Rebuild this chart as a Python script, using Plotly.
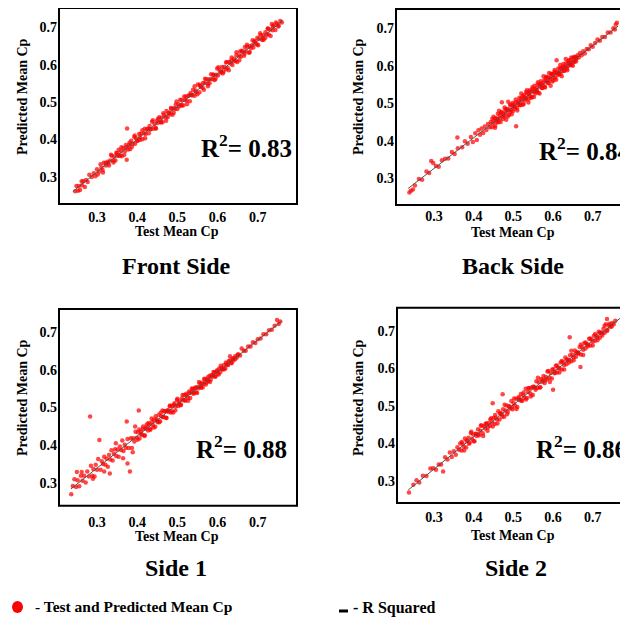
import plotly.graph_objects as go

FONT = "Liberation Serif"

# ---------------- data ----------------
tick_vals = [0.3, 0.4, 0.5, 0.6, 0.7]
tick_text = ["0.3", "0.4", "0.5", "0.6", "0.7"]

titles = ["Front Side", "Back Side", "Side 1", "Side 2"]
r2_values = ["0.83", "0.84", "0.88", "0.86"]

front_x = [0.246, 0.249, 0.253, 0.255, 0.258, 0.262, 0.263, 0.266, 0.270, 0.273,
           0.277, 0.281, 0.287, 0.292, 0.296, 0.300, 0.305, 0.311, 0.314, 0.317,
           0.322, 0.327, 0.330, 0.333, 0.337, 0.341, 0.343, 0.346, 0.350, 0.351,
           0.354, 0.358, 0.360, 0.362, 0.366, 0.370, 0.372, 0.375, 0.378, 0.380,
           0.383, 0.385, 0.389, 0.393, 0.395, 0.397, 0.401, 0.405, 0.407, 0.409,
           0.413, 0.417, 0.419, 0.421, 0.425, 0.429, 0.431, 0.433, 0.437, 0.441,
           0.443, 0.447, 0.449, 0.451, 0.455, 0.459, 0.461, 0.463, 0.467, 0.471,
           0.473, 0.476, 0.480, 0.482, 0.484, 0.488, 0.492, 0.494, 0.496, 0.500,
           0.503, 0.507, 0.509, 0.511, 0.515, 0.519, 0.521, 0.523, 0.527, 0.531,
           0.533, 0.535, 0.539, 0.543, 0.545, 0.547, 0.551, 0.555, 0.557, 0.559,
           0.564, 0.566, 0.568, 0.572, 0.576, 0.578, 0.580, 0.584, 0.588, 0.590,
           0.593, 0.597, 0.599, 0.601, 0.605, 0.609, 0.611, 0.613, 0.617, 0.621,
           0.623, 0.625, 0.629, 0.633, 0.635, 0.637, 0.641, 0.645, 0.647, 0.649,
           0.654, 0.656, 0.658, 0.662, 0.666, 0.668, 0.670, 0.674, 0.678, 0.680,
           0.683, 0.687, 0.689, 0.691, 0.695, 0.699, 0.701, 0.703, 0.707, 0.711,
           0.713, 0.715, 0.719, 0.723, 0.725, 0.727, 0.731, 0.735, 0.737, 0.739,
           0.744, 0.748, 0.752, 0.756, 0.760, 0.374]
front_y = [0.261, 0.275, 0.262, 0.275, 0.264, 0.288, 0.277, 0.288, 0.272, 0.291,
           0.286, 0.305, 0.299, 0.309, 0.301, 0.320, 0.313, 0.324, 0.318, 0.337,
           0.330, 0.340, 0.330, 0.343, 0.356, 0.343, 0.354, 0.343, 0.363, 0.356,
           0.372, 0.357, 0.368, 0.355, 0.377, 0.369, 0.385, 0.429, 0.373, 0.385,
           0.374, 0.396, 0.388, 0.406, 0.388, 0.403, 0.396, 0.414, 0.405, 0.415,
           0.400, 0.416, 0.428, 0.414, 0.427, 0.416, 0.436, 0.427, 0.447, 0.428,
           0.441, 0.429, 0.450, 0.444, 0.459, 0.445, 0.458, 0.446, 0.465, 0.459,
           0.476, 0.459, 0.472, 0.467, 0.484, 0.466, 0.484, 0.481, 0.493, 0.481,
           0.494, 0.506, 0.492, 0.505, 0.491, 0.505, 0.515, 0.503, 0.516, 0.502,
           0.524, 0.518, 0.533, 0.517, 0.531, 0.526, 0.547, 0.526, 0.543, 0.540,
           0.551, 0.533, 0.551, 0.561, 0.548, 0.560, 0.550, 0.574, 0.561, 0.573,
           0.559, 0.573, 0.590, 0.571, 0.585, 0.581, 0.594, 0.576, 0.594, 0.588,
           0.607, 0.591, 0.607, 0.603, 0.619, 0.599, 0.616, 0.610, 0.625, 0.607,
           0.624, 0.635, 0.621, 0.635, 0.624, 0.647, 0.636, 0.648, 0.632, 0.649,
           0.644, 0.665, 0.646, 0.661, 0.656, 0.672, 0.652, 0.669, 0.679, 0.666,
           0.679, 0.667, 0.687, 0.681, 0.696, 0.681, 0.694, 0.709, 0.692, 0.705,
           0.693, 0.709, 0.704, 0.717, 0.713, 0.345]
front_more_x = [0.302, 0.309, 0.315, 0.322, 0.328, 0.335, 0.341, 0.348, 0.355, 0.361,
                0.368, 0.374, 0.381, 0.387, 0.394, 0.400, 0.407, 0.413, 0.420, 0.426,
                0.433, 0.439, 0.446, 0.452, 0.459, 0.465, 0.472, 0.478, 0.485, 0.491,
                0.498, 0.504, 0.511, 0.517, 0.524, 0.530, 0.537, 0.543, 0.550, 0.556,
                0.563, 0.569, 0.576, 0.582, 0.589, 0.595, 0.602, 0.608, 0.615, 0.621,
                0.628, 0.634, 0.641, 0.647, 0.654, 0.660, 0.667, 0.673, 0.680, 0.686,
                0.693, 0.699, 0.706, 0.712, 0.719, 0.725, 0.732, 0.738, 0.745, 0.751]
front_more_y = [0.306, 0.333, 0.311, 0.337, 0.335, 0.359, 0.338, 0.364, 0.356, 0.379,
                0.359, 0.379, 0.391, 0.380, 0.410, 0.396, 0.398, 0.424, 0.403, 0.428,
                0.427, 0.451, 0.430, 0.455, 0.447, 0.470, 0.450, 0.470, 0.482, 0.471,
                0.501, 0.488, 0.490, 0.515, 0.494, 0.519, 0.518, 0.542, 0.521, 0.546,
                0.538, 0.562, 0.542, 0.561, 0.573, 0.562, 0.593, 0.579, 0.581, 0.606,
                0.585, 0.611, 0.610, 0.633, 0.612, 0.637, 0.630, 0.653, 0.633, 0.652,
                0.664, 0.654, 0.684, 0.670, 0.672, 0.697, 0.677, 0.702, 0.713, 0.702]

back_x = [0.238, 0.242, 0.247, 0.252, 0.262, 0.270, 0.281, 0.288, 0.293, 0.298,
          0.305, 0.312, 0.320, 0.328, 0.336, 0.345, 0.352, 0.360, 0.371, 0.378,
          0.385, 0.393, 0.398, 0.404, 0.408, 0.412, 0.416, 0.420, 0.424, 0.428,
          0.432, 0.436, 0.440, 0.359,
          0.443, 0.446, 0.447, 0.448, 0.451, 0.454, 0.455, 0.457, 0.460, 0.461,
          0.463, 0.466, 0.467, 0.469, 0.471, 0.474, 0.475, 0.477, 0.480, 0.481,
          0.483, 0.486, 0.487, 0.489, 0.492, 0.493, 0.495, 0.498, 0.499, 0.501,
          0.504, 0.505, 0.507, 0.509, 0.512, 0.513, 0.515, 0.518, 0.519, 0.521,
          0.523, 0.526, 0.527, 0.529, 0.532, 0.533, 0.535, 0.538, 0.539, 0.541,
          0.543, 0.546, 0.547, 0.549, 0.552, 0.553, 0.555, 0.558, 0.559, 0.561,
          0.563, 0.566, 0.567, 0.569, 0.572, 0.573, 0.575, 0.578, 0.579, 0.581,
          0.583, 0.586, 0.587, 0.589, 0.592, 0.593, 0.595, 0.598, 0.599, 0.601,
          0.604, 0.605, 0.607, 0.609, 0.612, 0.613, 0.615, 0.618, 0.619, 0.621,
          0.623, 0.626, 0.627, 0.629, 0.632, 0.633, 0.635, 0.638, 0.639, 0.641,
          0.643, 0.646, 0.647, 0.649, 0.652, 0.653, 0.655, 0.658, 0.659,
          0.662, 0.665, 0.668, 0.672, 0.676, 0.680, 0.685, 0.690, 0.695, 0.700,
          0.706, 0.712, 0.718, 0.724, 0.731, 0.738, 0.745, 0.752, 0.758, 0.761,
          0.756]
back_y = [0.262, 0.267, 0.270, 0.281, 0.298, 0.296, 0.318, 0.314, 0.346, 0.341,
          0.333, 0.331, 0.348, 0.352, 0.353, 0.370, 0.365, 0.380, 0.383, 0.399,
          0.392, 0.410, 0.397, 0.420, 0.402, 0.428, 0.416, 0.433, 0.421, 0.438,
          0.429, 0.445, 0.436, 0.409,
          0.450, 0.436, 0.459, 0.446, 0.454, 0.440, 0.461, 0.450, 0.458, 0.472,
          0.452, 0.468, 0.461, 0.475, 0.503, 0.458, 0.473, 0.465, 0.484, 0.474,
          0.483, 0.465, 0.504, 0.483, 0.476, 0.494, 0.482, 0.501, 0.479, 0.496,
          0.491, 0.502, 0.439, 0.487, 0.502, 0.496, 0.515, 0.496, 0.512, 0.507,
          0.519, 0.498, 0.516, 0.508, 0.530, 0.514, 0.526, 0.511, 0.524, 0.535,
          0.519, 0.532, 0.517, 0.538, 0.530, 0.547, 0.526, 0.540, 0.534, 0.550,
          0.528, 0.550, 0.544, 0.559, 0.541, 0.554, 0.548, 0.562, 0.544, 0.559,
          0.571, 0.554, 0.569, 0.554, 0.569, 0.565, 0.579, 0.558, 0.578, 0.569,
          0.584, 0.568, 0.580, 0.615, 0.575, 0.593, 0.582, 0.593, 0.578, 0.594,
          0.586, 0.605, 0.587, 0.599, 0.596, 0.607, 0.592, 0.608, 0.600, 0.615,
          0.602, 0.611, 0.603, 0.620, 0.611, 0.622, 0.611, 0.623, 0.619,
          0.628, 0.622, 0.634, 0.628, 0.639, 0.633, 0.645, 0.644, 0.655, 0.651,
          0.661, 0.670, 0.667, 0.677, 0.677, 0.689, 0.689, 0.700, 0.710, 0.715,
          0.697]
back_more_x = [0.450, 0.454, 0.457, 0.461, 0.464, 0.468, 0.471, 0.475, 0.478, 0.482,
               0.485, 0.489, 0.492, 0.496, 0.499, 0.503, 0.506, 0.510, 0.513, 0.517,
               0.520, 0.524, 0.527, 0.531, 0.534, 0.538, 0.541, 0.545, 0.548, 0.552,
               0.555, 0.559, 0.562, 0.566, 0.569, 0.573, 0.576, 0.580, 0.583, 0.587,
               0.590, 0.594, 0.597, 0.601, 0.604, 0.608, 0.611, 0.615, 0.618, 0.622,
               0.625, 0.629, 0.632, 0.636, 0.639, 0.643, 0.646, 0.650, 0.654, 0.658]
back_more_y = [0.464, 0.435, 0.459, 0.449, 0.480, 0.450, 0.477, 0.466, 0.489, 0.456,
               0.485, 0.469, 0.497, 0.471, 0.492, 0.486, 0.510, 0.481, 0.505, 0.495,
               0.526, 0.496, 0.522, 0.512, 0.535, 0.502, 0.531, 0.515, 0.543, 0.517,
               0.537, 0.532, 0.556, 0.526, 0.551, 0.541, 0.572, 0.542, 0.568, 0.558,
               0.581, 0.547, 0.577, 0.561, 0.589, 0.563, 0.583, 0.578, 0.602, 0.572,
               0.597, 0.587, 0.618, 0.588, 0.614, 0.604, 0.622, 0.600, 0.624, 0.612]

side1_x = [0.236, 0.240, 0.244, 0.248, 0.252, 0.256, 0.260, 0.264, 0.268, 0.272,
           0.276, 0.280, 0.283, 0.285, 0.288, 0.291, 0.294, 0.297, 0.300, 0.303,
           0.306, 0.309, 0.312, 0.315, 0.318, 0.321, 0.324, 0.327, 0.330, 0.333,
           0.336, 0.339, 0.342, 0.345, 0.348, 0.351, 0.354, 0.357, 0.360, 0.363,
           0.366, 0.369, 0.372, 0.374, 0.376, 0.379, 0.382, 0.384, 0.387, 0.390,
           0.393, 0.396, 0.399, 0.402, 0.404, 0.406, 0.409, 0.412, 0.415, 0.418,
           0.421, 0.424, 0.427, 0.430, 0.433, 0.436, 0.439, 0.442, 0.445, 0.448,
           0.451, 0.454, 0.457, 0.460, 0.463, 0.466, 0.469, 0.472, 0.475, 0.478,
           0.481, 0.484, 0.487, 0.490, 0.493, 0.496, 0.499, 0.502, 0.505, 0.508,
           0.511, 0.514, 0.517, 0.520, 0.523, 0.526, 0.529, 0.532, 0.535, 0.538,
           0.541, 0.544, 0.547, 0.550, 0.553, 0.556, 0.559, 0.562, 0.565, 0.568,
           0.571, 0.574, 0.577, 0.580, 0.583, 0.586, 0.589, 0.592, 0.595, 0.598,
           0.601, 0.604, 0.607, 0.610, 0.613, 0.616, 0.619, 0.622, 0.625, 0.628,
           0.631, 0.634, 0.637, 0.640, 0.644, 0.648, 0.652, 0.656, 0.660, 0.665,
           0.670, 0.676, 0.682, 0.688, 0.694, 0.700, 0.707, 0.714, 0.721, 0.728,
           0.735, 0.742, 0.748, 0.752, 0.756, 0.250, 0.332, 0.376]
side1_y = [0.271, 0.293, 0.311, 0.290, 0.308, 0.292, 0.320, 0.307, 0.320, 0.302,
           0.331, 0.318, 0.476, 0.346, 0.320, 0.338, 0.318, 0.349, 0.336, 0.364,
           0.414, 0.336, 0.358, 0.351, 0.370, 0.349, 0.365, 0.344, 0.375, 0.363,
           0.387, 0.360, 0.378, 0.390, 0.372, 0.389, 0.370, 0.397, 0.388, 0.413,
           0.385, 0.402, 0.394, 0.463, 0.417, 0.393, 0.331, 0.419, 0.393, 0.419,
           0.410, 0.436, 0.420, 0.435, 0.492, 0.418, 0.437, 0.429, 0.450, 0.425,
           0.444, 0.455, 0.439, 0.456, 0.441, 0.471, 0.454, 0.468, 0.449, 0.469,
           0.461, 0.481, 0.464, 0.477, 0.492, 0.475, 0.490, 0.473, 0.492, 0.488,
           0.503, 0.487, 0.503, 0.487, 0.511, 0.503, 0.520, 0.504, 0.516, 0.506,
           0.524, 0.519, 0.533, 0.518, 0.532, 0.526, 0.542, 0.525, 0.541, 0.549,
           0.538, 0.551, 0.540, 0.554, 0.551, 0.563, 0.552, 0.565, 0.562, 0.574,
           0.561, 0.574, 0.570, 0.584, 0.573, 0.586, 0.582, 0.593, 0.582, 0.595,
           0.590, 0.603, 0.594, 0.604, 0.601, 0.612, 0.603, 0.615, 0.612, 0.622,
           0.635, 0.618, 0.628, 0.624, 0.635, 0.632, 0.640, 0.637, 0.656, 0.650,
           0.650, 0.661, 0.661, 0.672, 0.670, 0.680, 0.682, 0.693, 0.693, 0.704,
           0.705, 0.716, 0.731, 0.720, 0.727, 0.330, 0.326, 0.352]
side1_more_x = [0.401, 0.405, 0.410, 0.414, 0.419, 0.423, 0.428, 0.432, 0.437, 0.441,
                0.446, 0.450, 0.455, 0.459, 0.464, 0.468, 0.473, 0.477, 0.482, 0.486,
                0.491, 0.495, 0.500, 0.504, 0.509, 0.513, 0.518, 0.522, 0.527, 0.531,
                0.536, 0.540, 0.545, 0.549, 0.554, 0.558, 0.563, 0.567, 0.572, 0.576,
                0.581, 0.585, 0.590, 0.594, 0.599, 0.603, 0.608, 0.612, 0.617, 0.621,
                0.626, 0.630, 0.635, 0.639, 0.644, 0.650,
                0.262, 0.290, 0.318, 0.347, 0.365, 0.389, 0.395]
side1_more_y = [0.415, 0.442, 0.429, 0.444, 0.427, 0.447, 0.459, 0.444, 0.462, 0.447,
                0.477, 0.465, 0.461, 0.487, 0.475, 0.490, 0.472, 0.493, 0.505, 0.490,
                0.507, 0.493, 0.523, 0.510, 0.507, 0.533, 0.520, 0.536, 0.518, 0.538,
                0.550, 0.536, 0.553, 0.538, 0.567, 0.556, 0.553, 0.576, 0.566, 0.580,
                0.567, 0.584, 0.594, 0.582, 0.598, 0.587, 0.610, 0.601, 0.601, 0.619,
                0.612, 0.624, 0.617, 0.630, 0.628, 0.640,
                0.330, 0.312, 0.331, 0.406, 0.366, 0.382, 0.450]

side2_x = [0.237, 0.248, 0.256, 0.263, 0.272, 0.281, 0.291, 0.298, 0.305, 0.312,
           0.318, 0.323, 0.328, 0.334, 0.340, 0.345, 0.350, 0.355, 0.359, 0.363,
           0.366, 0.369, 0.372, 0.375, 0.378, 0.381, 0.384, 0.387, 0.390, 0.393,
           0.396, 0.399, 0.402, 0.405, 0.408, 0.411, 0.414, 0.417, 0.420, 0.423,
           0.426, 0.429, 0.432, 0.435, 0.438, 0.441, 0.444, 0.447, 0.448, 0.450,
           0.453, 0.456, 0.459, 0.462, 0.465, 0.468, 0.471, 0.473, 0.474, 0.477,
           0.480, 0.483, 0.486, 0.489, 0.492, 0.495, 0.498, 0.501, 0.504, 0.507,
           0.510, 0.513, 0.516, 0.519, 0.522, 0.525, 0.528, 0.531, 0.534, 0.537,
           0.540, 0.543, 0.546, 0.549, 0.552, 0.555, 0.558, 0.561, 0.564, 0.567,
           0.570, 0.573, 0.576, 0.579, 0.582, 0.585, 0.588, 0.591, 0.594, 0.597,
           0.600, 0.601, 0.604, 0.607, 0.610, 0.613, 0.616, 0.619, 0.622, 0.625,
           0.628, 0.631, 0.634, 0.637, 0.640, 0.642, 0.643, 0.646, 0.649, 0.652,
           0.655, 0.658, 0.661, 0.664, 0.667, 0.669, 0.670, 0.673, 0.676, 0.679,
           0.682, 0.685, 0.688, 0.691, 0.694, 0.697, 0.700, 0.703, 0.706, 0.709,
           0.712, 0.715, 0.718, 0.721, 0.724, 0.727, 0.730, 0.733, 0.737, 0.741,
           0.745, 0.749, 0.753, 0.757, 0.736]
side2_y = [0.269, 0.290, 0.302, 0.296, 0.314, 0.313, 0.333, 0.334, 0.330, 0.344,
           0.344, 0.325, 0.363, 0.357, 0.376, 0.364, 0.379, 0.370, 0.390, 0.383,
           0.400, 0.381, 0.399, 0.391, 0.413, 0.389, 0.407, 0.415, 0.402, 0.428,
           0.412, 0.424, 0.406, 0.426, 0.420, 0.438, 0.422, 0.434, 0.448, 0.427,
           0.446, 0.440, 0.454, 0.434, 0.454, 0.447, 0.467, 0.456, 0.507, 0.468,
           0.452, 0.469, 0.464, 0.486, 0.464, 0.481, 0.478, 0.531, 0.491, 0.471,
           0.488, 0.501, 0.484, 0.500, 0.493, 0.513, 0.491, 0.507, 0.501, 0.519,
           0.497, 0.520, 0.515, 0.532, 0.513, 0.529, 0.522, 0.546, 0.521, 0.537,
           0.547, 0.533, 0.549, 0.529, 0.551, 0.548, 0.566, 0.548, 0.563, 0.549,
           0.572, 0.564, 0.580, 0.561, 0.577, 0.571, 0.593, 0.575, 0.588, 0.573,
           0.543, 0.598, 0.589, 0.607, 0.589, 0.602, 0.600, 0.616, 0.597, 0.617,
           0.609, 0.629, 0.611, 0.624, 0.622, 0.683, 0.635, 0.619, 0.636, 0.629,
           0.648, 0.631, 0.644, 0.641, 0.657, 0.604, 0.637, 0.658, 0.650, 0.668,
           0.653, 0.665, 0.663, 0.679, 0.661, 0.677, 0.671, 0.687, 0.674, 0.687,
           0.682, 0.698, 0.682, 0.696, 0.694, 0.706, 0.695, 0.718, 0.703, 0.715,
           0.711, 0.721, 0.718, 0.727, 0.732]
side2_more_x = [0.370, 0.376, 0.382, 0.388, 0.394, 0.400, 0.406, 0.412, 0.418, 0.424,
                0.430, 0.436, 0.442, 0.448, 0.454, 0.460, 0.466, 0.472, 0.478, 0.484,
                0.490, 0.496, 0.502, 0.508, 0.514, 0.520, 0.526, 0.532, 0.538, 0.544,
                0.550, 0.556, 0.562, 0.568, 0.574, 0.580, 0.586, 0.592, 0.598, 0.604,
                0.610, 0.616, 0.622, 0.628, 0.634, 0.640, 0.646, 0.652, 0.658, 0.664,
                0.670, 0.676, 0.682, 0.688, 0.694, 0.700, 0.706, 0.712, 0.718, 0.724,
                0.730, 0.736, 0.742, 0.748]
side2_more_y = [0.404, 0.381, 0.407, 0.399, 0.431, 0.406, 0.425, 0.424, 0.448, 0.420,
                0.452, 0.443, 0.464, 0.445, 0.476, 0.453, 0.479, 0.471, 0.503, 0.478,
                0.497, 0.496, 0.520, 0.492, 0.524, 0.515, 0.536, 0.517, 0.548, 0.525,
                0.551, 0.543, 0.575, 0.550, 0.569, 0.568, 0.592, 0.564, 0.597, 0.587,
                0.608, 0.589, 0.620, 0.597, 0.623, 0.616, 0.647, 0.622, 0.641, 0.640,
                0.664, 0.636, 0.669, 0.659, 0.680, 0.661, 0.692, 0.675, 0.695, 0.688,
                0.714, 0.700, 0.719, 0.712]

# fitted (R squared) lines, end points
front_line_x = [0.240, 0.762]
front_line_y = [0.260, 0.718]
back_line_x = [0.235, 0.764]
back_line_y = [0.273, 0.706]
side1_line_x = [0.235, 0.759]
side1_line_y = [0.285, 0.728]
side2_line_x = [0.235, 0.769]
side2_line_y = [0.276, 0.734]

# ---------------- layout helpers ----------------
# the page adds an 8 px body margin, so the figure is 620 x 612 and
# page coordinates are shifted by 8 px
OFF = 8
W, H = 620, 612


def px(x):
    return min(1.0, max(0.0, (x - OFF) / W))


def py(y):
    return min(1.0, max(0.0, 1 - (y - OFF) / H))


panels = [
    dict(pts=(front_x + front_more_x, front_y + front_more_y), line=(front_line_x, front_line_y),
         xd=[59, 297], yd=[8, 204], xr=[0.2056, 0.7976], yr=[0.2268, 0.7517],
         xstand=3, r2=(199, 146), ttl=(176, 266), xt=(177, 231), yt=(22, 97)),
    dict(pts=(back_x + back_more_x, back_y + back_more_y), line=(back_line_x, back_line_y),
         xd=[396, 628], yd=[9, 205], xr=[0.2043, 0.7889], yr=[0.2288, 0.7515],
         xstand=1, r2=(537, 149), ttl=(513, 266), xt=(513, 232), yt=(358, 97)),
    dict(pts=(side1_x + side1_more_x, side1_y + side1_more_y), line=(side1_line_x, side1_line_y),
         xd=[59, 297], yd=[309, 505.7], xr=[0.2056, 0.7976], yr=[0.2409, 0.7599],
         xstand=6, r2=(194, 447), ttl=(176, 568), xt=(177, 536), yt=(22, 398)),
    dict(pts=(side2_x + side2_more_x, side2_y + side2_more_y), line=(side2_line_x, side2_line_y),
         xd=[397, 628], yd=[307.7, 503], xr=[0.2068, 0.7889], yr=[0.2413, 0.7621],
         xstand=4, r2=(534, 447), ttl=(516, 568), xt=(513, 535), yt=(358, 398)),
]

fig = go.Figure()
annotations = []
shapes = []
layout = {}

for i, p in enumerate(panels):
    n = "" if i == 0 else str(i + 1)
    xa, ya = "x" + n, "y" + n
    fig.add_trace(go.Scatter(
        x=p["pts"][0], y=p["pts"][1], mode="markers", xaxis=xa, yaxis=ya,
        marker=dict(size=4.5, color="rgba(255,0,0,0.72)", line=dict(width=0)),
        showlegend=False, hoverinfo="skip"))
    fig.add_trace(go.Scatter(
        x=p["line"][0], y=p["line"][1], mode="lines", xaxis=xa, yaxis=ya,
        line=dict(color="#505050", width=1), showlegend=False, hoverinfo="skip"))

    tf = dict(family=FONT, size=14, color="black", weight="bold")
    layout["xaxis" + n] = dict(
        domain=[px(p["xd"][0]), px(p["xd"][1])], range=p["xr"], anchor=ya,
        showgrid=False, zeroline=False, showline=False, ticks="",
        tickvals=tick_vals, ticktext=tick_text, tickfont=tf,
        ticklabelstandoff=p["xstand"])
    layout["yaxis" + n] = dict(
        domain=[py(p["yd"][1]), py(p["yd"][0])], range=p["yr"], anchor=xa,
        showgrid=False, zeroline=False, showline=False, ticks="",
        tickvals=tick_vals, ticktext=tick_text, tickfont=tf,
        ticklabelstandoff=1)

    x1 = 1.05 if p["xd"][1] >= 628 else 1
    shapes.append(dict(type="rect", xref=xa + " domain", yref=ya + " domain",
                       x0=0, x1=x1, y0=0, y1=1, line=dict(color="black", width=2),
                       fillcolor="rgba(0,0,0,0)", layer="above"))

    annotations.append(dict(
        text="R<sup>2</sup>= " + r2_values[i], xref="paper", yref="paper",
        x=px(p["r2"][0]), y=py(p["r2"][1]), xanchor="left", yanchor="middle",
        showarrow=False, font=dict(family=FONT, size=25, color="black", weight="bold")))
    annotations.append(dict(
        text=titles[i], xref="paper", yref="paper",
        x=px(p["ttl"][0]), y=py(p["ttl"][1]), xanchor="center", yanchor="middle",
        showarrow=False, font=dict(family=FONT, size=24, color="black", weight="bold")))
    annotations.append(dict(
        text="Test Mean Cp", xref="paper", yref="paper",
        x=px(p["xt"][0]), y=py(p["xt"][1]), xanchor="center", yanchor="middle",
        showarrow=False, font=dict(family=FONT, size=14, color="black", weight="bold")))
    annotations.append(dict(
        text="Predicted Mean Cp", xref="paper", yref="paper", textangle=-90,
        x=px(p["yt"][0]), y=py(p["yt"][1]), xanchor="center", yanchor="middle",
        showarrow=False, font=dict(family=FONT, size=14, color="black", weight="bold")))

# legend drawn at the bottom
shapes.append(dict(type="circle", xref="paper", yref="paper",
                   x0=px(12), x1=px(23), y0=py(613), y1=py(601),
                   fillcolor="red", line=dict(width=0)))
shapes.append(dict(type="line", xref="paper", yref="paper",
                   x0=px(339), x1=px(348), y0=py(611), y1=py(611),
                   line=dict(color="black", width=3)))
annotations.append(dict(text="- Test and Predicted Mean Cp", xref="paper", yref="paper",
                        x=px(33), y=py(606), xanchor="left", yanchor="middle", showarrow=False,
                        font=dict(family=FONT, size=15.5, color="black", weight="bold")))
annotations.append(dict(text="- R Squared", xref="paper", yref="paper",
                        x=px(351), y=py(608), xanchor="left", yanchor="middle", showarrow=False,
                        font=dict(family=FONT, size=16, color="black", weight="bold")))

fig.update_layout(
    width=W, height=H, margin=dict(l=0, r=0, t=0, b=0),
    paper_bgcolor="white", plot_bgcolor="white",
    shapes=shapes, annotations=annotations, **layout)

fig.write_html("out.html")
